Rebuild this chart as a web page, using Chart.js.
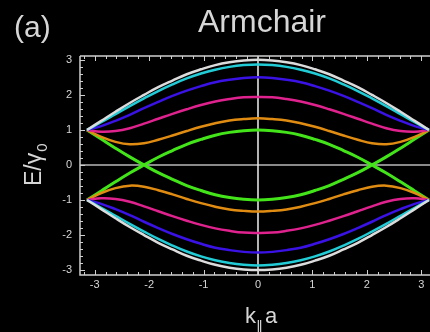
<!DOCTYPE html>
<html><head><meta charset="utf-8">
<script src="https://cdn.jsdelivr.net/npm/chart.js@4.4.1/dist/chart.umd.min.js"></script>
<style>html,body{margin:0;padding:0;background:#000;overflow:hidden;}</style>
</head><body>
<canvas id="c" width="430" height="332"></canvas>
<script>
// wave vector k||a (x)
const kValues = [-3.142,-2.880,-2.618,-2.356,-2.094,-1.833,-1.571,-1.309,-1.047,-0.785,-0.524,-0.262,0,0.262,0.524,0.785,1.047,1.309,1.571,1.833,2.094,2.356,2.618,2.880,3.142];
// conduction-side bands E/gamma0
const whiteUp   = [1.00,1.26,1.52,1.77,2.00,2.22,2.41,2.59,2.73,2.85,2.93,2.98,3.00,2.98,2.93,2.85,2.73,2.59,2.41,2.22,2.00,1.77,1.52,1.26,1.00];
const cyanUp    = [1.00,1.22,1.45,1.68,1.90,2.11,2.30,2.47,2.61,2.72,2.80,2.85,2.87,2.85,2.80,2.72,2.61,2.47,2.30,2.11,1.90,1.68,1.45,1.22,1.00];
const blueUp    = [1.00,1.11,1.26,1.43,1.62,1.80,1.97,2.12,2.25,2.36,2.43,2.48,2.50,2.48,2.43,2.36,2.25,2.12,1.97,1.80,1.62,1.43,1.26,1.11,1.00];
const magentaUp = [1.00,0.95,0.97,1.05,1.18,1.32,1.46,1.59,1.71,1.81,1.88,1.93,1.94,1.93,1.88,1.81,1.71,1.59,1.46,1.32,1.18,1.05,0.97,0.95,1.00];
const orangeUp  = [1.00,0.80,0.66,0.59,0.62,0.72,0.84,0.97,1.09,1.19,1.27,1.31,1.33,1.31,1.27,1.19,1.09,0.97,0.84,0.72,0.62,0.59,0.66,0.80,1.00];
const greenA    = [-1.00,-0.74,-0.48,-0.23,0.00,0.22,0.41,0.59,0.73,0.85,0.93,0.98,1.00,0.98,0.93,0.85,0.73,0.59,0.41,0.22,0.00,-0.23,-0.48,-0.74,-1.00];
// valence-side bands
const whiteDown   = [-1.00,-1.26,-1.52,-1.77,-2.00,-2.22,-2.41,-2.59,-2.73,-2.85,-2.93,-2.98,-3.00,-2.98,-2.93,-2.85,-2.73,-2.59,-2.41,-2.22,-2.00,-1.77,-1.52,-1.26,-1.00];
const cyanDown    = [-1.00,-1.22,-1.45,-1.68,-1.90,-2.11,-2.30,-2.47,-2.61,-2.72,-2.80,-2.85,-2.87,-2.85,-2.80,-2.72,-2.61,-2.47,-2.30,-2.11,-1.90,-1.68,-1.45,-1.22,-1.00];
const blueDown    = [-1.00,-1.11,-1.26,-1.43,-1.62,-1.80,-1.97,-2.12,-2.25,-2.36,-2.43,-2.48,-2.50,-2.48,-2.43,-2.36,-2.25,-2.12,-1.97,-1.80,-1.62,-1.43,-1.26,-1.11,-1.00];
const magentaDown = [-1.00,-0.95,-0.97,-1.05,-1.18,-1.32,-1.46,-1.59,-1.71,-1.81,-1.88,-1.93,-1.94,-1.93,-1.88,-1.81,-1.71,-1.59,-1.46,-1.32,-1.18,-1.05,-0.97,-0.95,-1.00];
const orangeDown  = [-1.00,-0.80,-0.66,-0.59,-0.62,-0.72,-0.84,-0.97,-1.09,-1.19,-1.27,-1.31,-1.33,-1.31,-1.27,-1.19,-1.09,-0.97,-0.84,-0.72,-0.62,-0.59,-0.66,-0.80,-1.00];
const greenB      = [1.00,0.74,0.48,0.23,0.00,-0.22,-0.41,-0.59,-0.73,-0.85,-0.93,-0.98,-1.00,-0.98,-0.93,-0.85,-0.73,-0.59,-0.41,-0.22,0.00,0.23,0.48,0.74,1.00];

const xTickValues = [-3,-2,-1,0,1,2,3];
const yTickValues = [-3,-2,-1,0,1,2,3];
const titleText = 'Armchair';
const panelLabel = '(a)';

const bands = [
  [whiteUp,'#dcdcdc',2.5],[whiteDown,'#dcdcdc',2.5],
  [cyanUp,'#22ccd6',2.5],[cyanDown,'#22ccd6',2.5],
  [blueUp,'#3a12e6',2.5],[blueDown,'#3a12e6',2.5],
  [magentaUp,'#e0228e',2.5],[magentaDown,'#e0228e',2.5],
  [orangeUp,'#e08c12',2.5],[orangeDown,'#e08c12',2.5],
  [greenA,'#44e41a',3],[greenB,'#44e41a',3]
];
const datasets = bands.map(([arr,col,w]) => ({
  data: kValues.map((k,i)=>({x:k,y:arr[i]})),
  borderColor: col, borderWidth: w, pointRadius: 0, showLine: true, tension: 0.4, fill:false
}));

const TXT = '#d6d6d6';
const bg = { id:'bg', beforeDraw(ch){ const c=ch.ctx; c.save(); c.fillStyle='#000'; c.fillRect(0,0,ch.width,ch.height); c.restore(); } };

const axesLines = { id:'axesLines',
  beforeDatasetsDraw(ch){
    const c=ch.ctx, a=ch.chartArea, xs=ch.scales.x, ys=ch.scales.y;
    c.save();
    c.lineWidth=1.5;
    c.strokeStyle='#b8b8b8';
    const y0=ys.getPixelForValue(0);
    c.beginPath(); c.moveTo(a.left,y0); c.lineTo(a.right,y0); c.stroke();
    c.strokeStyle='#f0f0f0';
    const x0=xs.getPixelForValue(0);
    c.beginPath(); c.moveTo(x0,a.top); c.lineTo(x0,a.bottom); c.stroke();
    c.restore();
  },
  afterDatasetsDraw(ch){
    const c=ch.ctx, a=ch.chartArea, xs=ch.scales.x, ys=ch.scales.y;
    c.save();
    c.strokeStyle='#cfcfcf'; c.lineWidth=1.5;
    c.beginPath();
    c.moveTo(a.left,a.top); c.lineTo(a.right,a.top);
    c.moveTo(a.left,a.top); c.lineTo(a.left,a.bottom); c.lineTo(a.right,a.bottom);
    c.stroke();
    c.lineWidth=1;
    c.beginPath();
    for(let i=-17;i<=17;i++){
      const v=i/5, px=Math.round(xs.getPixelForValue(v))+0.5;
      if(px<a.left+1||px>a.right) continue;
      const L=(i%5===0)?5:3;
      c.moveTo(px,a.bottom); c.lineTo(px,a.bottom-L);
      c.moveTo(px,a.top); c.lineTo(px,a.top+L);
    }
    for(let i=-16;i<=16;i++){
      const v=i/5, py=Math.round(ys.getPixelForValue(v))+0.5;
      if(py<a.top+1||py>a.bottom-1) continue;
      const L=(i%5===0)?5:3;
      c.moveTo(a.left,py); c.lineTo(a.left+L,py);
    }
    c.stroke();
    c.restore();
  }
};

const texts = { id:'texts',
  afterDraw(ch){
    const c=ch.ctx;
    c.save();
    c.fillStyle=TXT;
    c.textBaseline='alphabetic';
    c.font='30px "Liberation Sans", Arial, sans-serif';
    c.textAlign='left';
    c.fillText(panelLabel,14,37);
    c.font='32px "Liberation Sans", Arial, sans-serif';
    c.textAlign='center';
    c.fillText(titleText,262,32);
    // x axis title k||a
    c.textAlign='left';
    c.font='22px "Liberation Sans", Arial, sans-serif';
    c.fillText('k',245,323);
    c.font='14px "DejaVu Sans", sans-serif';
    c.fillText('\u2016',256,331);
    c.font='22px "Liberation Sans", Arial, sans-serif';
    c.fillText('a',265,323);
    // y axis title E/gamma_0
    c.translate(41,186);
    c.rotate(-Math.PI/2);
    c.font='23px "Liberation Sans", Arial, sans-serif';
    c.fillText('E/\u03B3',0,0);
    const w=c.measureText('E/\u03B3').width;
    c.font='15px "Liberation Sans", Arial, sans-serif';
    c.fillText('0',w+1,6);
    c.restore();
  }
};

new Chart(document.getElementById('c'), {
  type:'scatter',
  data:{datasets},
  options:{
    responsive:false, animation:false, devicePixelRatio:1,
    layout:{padding:{top:56,left:0,right:0,bottom:0}},
    plugins:{legend:{display:false},tooltip:{enabled:false},title:{display:false}},
    scales:{
      x:{type:'linear',min:-3.27,max:3.16,
        grid:{display:false,drawTicks:false},border:{display:false},
        ticks:{color:TXT,font:{family:'"Liberation Sans", Arial, sans-serif',size:11},padding:3,maxRotation:0,autoSkip:false},
        afterBuildTicks:s=>{s.ticks=xTickValues.map(v=>({value:v}));},
        afterFit:s=>{s.height=57;}},
      y:{type:'linear',min:-3.14,max:3.11,
        grid:{display:false,drawTicks:false},border:{display:false},
        ticks:{color:TXT,font:{family:'"Liberation Sans", Arial, sans-serif',size:11},padding:8,autoSkip:false},
        afterBuildTicks:s=>{s.ticks=yTickValues.map(v=>({value:v}));},
        afterFit:s=>{s.width=80;}}
    }
  },
  plugins:[bg,axesLines,texts]
});
</script>
</body></html>
